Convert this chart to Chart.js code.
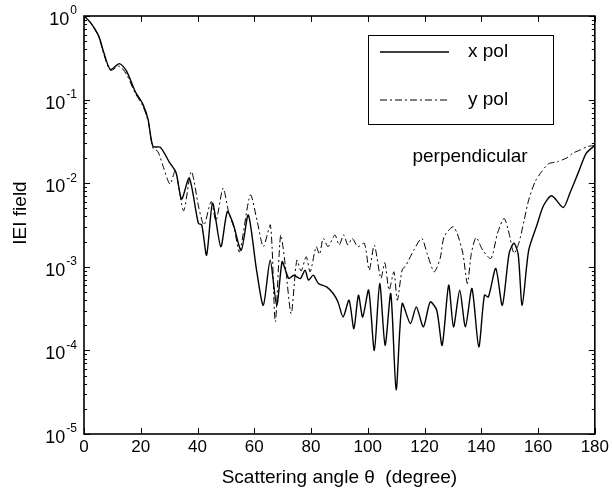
<!DOCTYPE html>
<html>
<head>
<meta charset="utf-8">
<script src="https://cdn.jsdelivr.net/npm/chart.js@4/dist/chart.umd.min.js"></script>
<style>
  html, body { margin: 0; padding: 0; background: #fff; }
  #wrap { width: 612px; height: 492px; }
</style>
</head>
<body>
<div id="wrap"><canvas id="chart" width="612" height="492"></canvas></div>
<script>
// values (scattering angle in degrees, |E| field)
const xPolAngle = [0, 2.3, 5.2, 7, 9.3, 12.5, 15, 18, 20.8, 22.6, 24.3, 26.9, 30.1, 32.4, 34.4, 37.1,
  40.3, 41.5, 43.2, 45.3, 48.2, 50.5, 52.5, 55.4, 57.9, 60.8, 63.2, 65.6, 67.9, 69.8, 71, 72.2,
  73.9, 76.2, 77.9, 79.1, 80.8, 82.6, 85.5, 87.8, 89.5, 91.3, 93.4, 95.1, 96.7, 98.2, 100.3, 102.3,
  104.2, 106.1, 108.1, 110, 112.1, 115, 117.1, 119.6, 122, 124.3, 126.2, 128.5, 130.2, 132.4, 134.4,
  136.7, 139.1, 141.1, 142.5, 145.1, 147.4, 149.8, 151.5, 153, 154.4, 156.7, 159.6, 161.9, 164.8,
  168.9, 171.2, 174.1, 177, 180];
const xPolField = [1, 0.832, 0.575, 0.363, 0.229, 0.269, 0.219, 0.126, 0.0871, 0.0575, 0.0275, 0.0269,
  0.0178, 0.0135, 0.00646, 0.0115, 0.00331, 0.00316, 0.00138, 0.00575, 0.00174, 0.00457, 0.00331,
  0.00158, 0.00417, 0.000912, 0.000347, 0.0012, 0.000347, 0.00115, 0.000912, 0.000724, 0.000794,
  0.000724, 0.000912, 0.000692, 0.000794, 0.000631, 0.000575, 0.000479, 0.00038, 0.000251, 0.000398,
  0.000182, 0.000457, 0.000251, 0.000525, 0.0001, 0.000631, 0.000115, 0.000479, 0.0000339, 0.000363,
  0.000209, 0.000331, 0.000191, 0.00038, 0.000302, 0.000115, 0.000603, 0.000191, 0.000525, 0.000191,
  0.00055, 0.00011, 0.000457, 0.000437, 0.000955, 0.000347, 0.00145, 0.00191, 0.00141, 0.000347,
  0.00158, 0.00316, 0.00537, 0.00708, 0.00513, 0.00759, 0.0132, 0.0229, 0.0282];

const yPolAngle = [0, 2.3, 5.2, 7, 9.3, 12.5, 15, 18, 20.8, 22.6, 24.3, 26, 27.8, 30.3, 32.2, 35.1,
  37.8, 40.5, 42.3, 44.8, 46.5, 49, 51, 53, 54.8, 58.6, 61, 63.2, 65.7, 67.4, 69.3, 71, 73, 75, 76.5,
  78.3, 79.7, 81.8, 83, 84.3, 86, 88.4, 89.9, 91.5, 93, 94.5, 96.5, 98.8, 100.5, 102.3, 104.6, 106,
  107.5, 109.2, 110.4, 112.1, 113.5, 116.2, 119, 121, 123.4, 125.5, 126.9, 130, 131.5, 133.5, 135.1,
  136.5, 138.2, 140.5, 143.4, 145.7, 148, 149.5, 151.5, 153.2, 155, 156.7, 159, 161.3, 163.6, 167.1,
  170, 172.3, 175, 177.5, 180];
const yPolField = [1, 0.832, 0.562, 0.347, 0.224, 0.251, 0.2, 0.12, 0.0832, 0.055, 0.0263, 0.024,
  0.0162, 0.00977, 0.0141, 0.00468, 0.0138, 0.00501, 0.00316, 0.00603, 0.00355, 0.00871, 0.00447,
  0.00282, 0.00151, 0.00724, 0.00355, 0.00174, 0.00316, 0.000219, 0.0024, 0.001, 0.000275, 0.0012,
  0.000891, 0.00132, 0.000871, 0.00174, 0.00141, 0.00219, 0.00174, 0.0024, 0.00182, 0.0024, 0.00182,
  0.00219, 0.00174, 0.00191, 0.000912, 0.00182, 0.000724, 0.00112, 0.000525, 0.000871, 0.000398,
  0.000912, 0.00105, 0.00158, 0.00219, 0.00141, 0.000871, 0.00126, 0.00229, 0.00302, 0.00251, 0.00145,
  0.000631, 0.00145, 0.00224, 0.00158, 0.00126, 0.00251, 0.0038, 0.00275, 0.00145, 0.00191, 0.00347,
  0.00631, 0.0105, 0.0138, 0.017, 0.0182, 0.02, 0.0229, 0.0251, 0.0275, 0.0282];

const seriesNames = ['x pol', 'y pol'];
const xTickValues = [0, 20, 40, 60, 80, 100, 120, 140, 160, 180];
const yDecades = [0, -1, -2, -3, -4, -5];
const noteText = 'perpendicular';
const yTitle = 'IEI field';

const FONT = '"Liberation Sans", Arial, Helvetica, sans-serif';

function toPoints(xs, ys) {
  return xs.map((x, i) => ({ x: x, y: ys[i] }));
}

// box, inward ticks, y labels with superscripts, legend and note
const framePlugin = {
  id: 'frame',
  afterDraw(chart) {
    const ctx = chart.ctx;
    const a = chart.chartArea;
    const xs = chart.scales.x, ys = chart.scales.y;
    ctx.save();
    ctx.strokeStyle = '#000';
    ctx.lineWidth = 1.6;
    ctx.strokeRect(a.left, a.top, a.right - a.left, a.bottom - a.top);

    ctx.lineWidth = 1;
    ctx.beginPath();
    xTickValues.forEach(v => {
      const px = Math.round(xs.getPixelForValue(v)) + 0.5;
      ctx.moveTo(px, a.bottom); ctx.lineTo(px, a.bottom - 6);
      ctx.moveTo(px, a.top); ctx.lineTo(px, a.top + 6);
    });
    yDecades.forEach(k => {
      const py = Math.round(ys.getPixelForValue(Math.pow(10, k))) + 0.5;
      ctx.moveTo(a.left, py); ctx.lineTo(a.left + 6, py);
      ctx.moveTo(a.right, py); ctx.lineTo(a.right - 6, py);
      if (k > -5) {
        for (let m = 2; m <= 9; m++) {
          const pm = Math.round(ys.getPixelForValue(m * Math.pow(10, k - 1))) + 0.5;
          ctx.moveTo(a.left, pm); ctx.lineTo(a.left + 3, pm);
          ctx.moveTo(a.right, pm); ctx.lineTo(a.right - 3, pm);
        }
      }
    });
    ctx.stroke();

    // y tick labels: 10 with a raised exponent
    ctx.fillStyle = '#000';
    yDecades.forEach(k => {
      const py = ys.getPixelForValue(Math.pow(10, k));
      const exp = k === 0 ? '0' : '-' + (-k);
      ctx.font = '12px ' + FONT;
      const ew = ctx.measureText(exp).width;
      const baseRight = a.left - 8 - ew;
      ctx.font = '18px ' + FONT;
      ctx.textAlign = 'right';
      ctx.textBaseline = 'middle';
      ctx.fillText('10', baseRight, py + 4);
      ctx.font = '12px ' + FONT;
      ctx.textAlign = 'left';
      ctx.fillText(exp, baseRight + 1, py - 5);
    });

    // y axis title
    ctx.save();
    ctx.translate(21, 213);
    ctx.rotate(-Math.PI / 2);
    ctx.font = '19px ' + FONT;
    ctx.textAlign = 'center';
    ctx.textBaseline = 'middle';
    ctx.fillText(yTitle, 0, 0);
    ctx.restore();

    // legend box inside the plot
    const lx = a.left + 284, ly = a.top + 19, lw = 185, lh = 89;
    ctx.lineWidth = 1;
    ctx.strokeRect(lx + 0.5, ly + 0.5, lw, lh);
    chart.data.datasets.forEach((ds, i) => {
      const yy = ly + 17 + i * 48;
      ctx.beginPath();
      ctx.setLineDash(ds.borderDash || []);
      ctx.lineWidth = ds.borderWidth;
      ctx.strokeStyle = ds.borderColor;
      ctx.moveTo(lx + 12, yy); ctx.lineTo(lx + 81, yy);
      ctx.stroke();
      ctx.setLineDash([]);
      ctx.font = '19px ' + FONT;
      ctx.textAlign = 'left';
      ctx.textBaseline = 'middle';
      ctx.fillText(ds.label, lx + 100, yy);
    });

    ctx.font = '19px ' + FONT;
    ctx.textAlign = 'center';
    ctx.fillText(noteText, a.left + 386, a.top + 141);
    ctx.restore();
  }
};

new Chart(document.getElementById('chart').getContext('2d'), {
  type: 'line',
  data: {
    datasets: [{
      label: seriesNames[0],
      data: toPoints(xPolAngle, xPolField),
      borderColor: '#000',
      borderWidth: 1.4,
      tension: 0.25,
      pointRadius: 0,
      fill: false
    }, {
      label: seriesNames[1],
      data: toPoints(yPolAngle, yPolField),
      borderColor: '#000',
      borderWidth: 1,
      borderDash: [7, 3, 2, 3],
      tension: 0.25,
      pointRadius: 0,
      fill: false
    }]
  },
  options: {
    responsive: false,
    devicePixelRatio: 1,
    animation: false,
    layout: { padding: { left: 0, right: 10, top: 16, bottom: 0 } },
    plugins: { legend: { display: false }, tooltip: { enabled: false } },
    scales: {
      x: {
        type: 'linear',
        min: 0,
        max: 180,
        grid: { display: false, drawTicks: false },
        border: { display: false },
        afterBuildTicks: scale => { scale.ticks = xTickValues.map(v => ({ value: v })); },
        afterFit: scale => { scale.height = 58; },
        ticks: { color: '#000', font: { family: FONT, size: 17 }, padding: 3, maxRotation: 0 },
        title: {
          display: true,
          text: 'Scattering angle θ  (degree)',
          color: '#000',
          font: { family: FONT, size: 19 },
          padding: { top: 0, bottom: 3 }
        }
      },
      y: {
        type: 'logarithmic',
        min: 1e-5,
        max: 1,
        grid: { display: false },
        border: { display: false },
        ticks: { display: false },
        afterFit: scale => { scale.width = 84; },
        title: { display: false }
      }
    }
  },
  plugins: [framePlugin]
});
</script>
</body>
</html>
